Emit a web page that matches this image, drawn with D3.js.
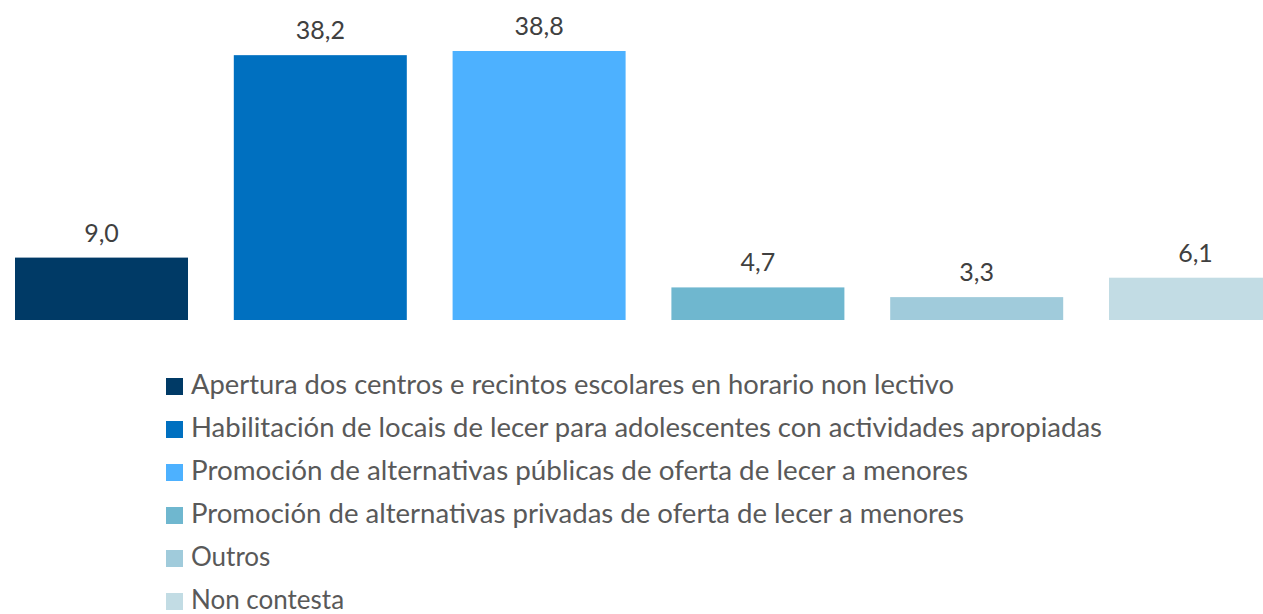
<!DOCTYPE html>
<html>
<head>
<meta charset="utf-8">
<script src="https://cdn.jsdelivr.net/npm/d3@7"></script>
<style>
html,body{margin:0;padding:0;background:#fff;overflow:hidden;}
svg{display:block;}
</style>
</head>
<body>
<div id="chart"></div>
<script>
const categories=[
  "Apertura dos centros e recintos escolares en horario non lectivo",
  "Habilitación de locais de lecer para adolescentes con actividades apropiadas",
  "Promoción de alternativas públicas de oferta de lecer a menores",
  "Promoción de alternativas privadas de oferta de lecer a menores",
  "Outros",
  "Non contesta"
];
const values=[9.0,38.2,38.8,4.7,3.3,6.1];
const colors=["#003A66","#0070C0","#4DB1FF","#6FB7CF","#A0CBDB","#C2DCE4"];
const legendWidths=[763,911,777,773,0,0];

const W=1263,H=614;
const svg=d3.select("#chart").append("svg").attr("width",W).attr("height",H);
const font="Lato, 'Open Sans', sans-serif";

// chart area is wider than the window; last bar gets clipped like the original
const x=d3.scaleBand().domain(d3.range(values.length)).range([15,1282]).paddingInner(0.2093).paddingOuter(0);
const y=d3.scaleLinear().domain([0,38.8]).range([320,51]);

svg.selectAll("rect.bar").data(values).enter().append("rect")
  .attr("class","bar")
  .attr("x",(d,i)=>x(i))
  .attr("width",x.bandwidth())
  .attr("y",d=>y(d))
  .attr("height",d=>y(0)-y(d))
  .attr("fill",(d,i)=>colors[i]);

svg.selectAll("text.val").data(values).enter().append("text")
  .attr("class","val")
  .attr("x",(d,i)=>x(i)+x.bandwidth()/2)
  .attr("y",d=>y(d)-16)
  .attr("text-anchor","middle")
  .attr("font-family",font)
  .attr("font-size",25)
  .attr("fill","#404040")
  .text(d=>d.toFixed(1).replace(".",","));

const ly=d3.scalePoint().domain(d3.range(categories.length)).range([394,609]);
const leg=svg.selectAll("g.leg").data(categories).enter().append("g")
  .attr("class","leg")
  .attr("transform",(d,i)=>`translate(166,${ly(i)})`);
leg.append("rect")
  .attr("x",0).attr("y",-16)
  .attr("width",17).attr("height",17)
  .attr("fill",(d,i)=>colors[i]);
leg.append("text")
  .attr("x",25).attr("y",0)
  .attr("font-family",font)
  .attr("font-size",26)
  .attr("fill","#595959")
  .text(d=>d)
  .each(function(d,i){
    if(legendWidths[i]) d3.select(this).attr("textLength",legendWidths[i]).attr("lengthAdjust","spacingAndGlyphs");
  });
</script>
</body>
</html>
